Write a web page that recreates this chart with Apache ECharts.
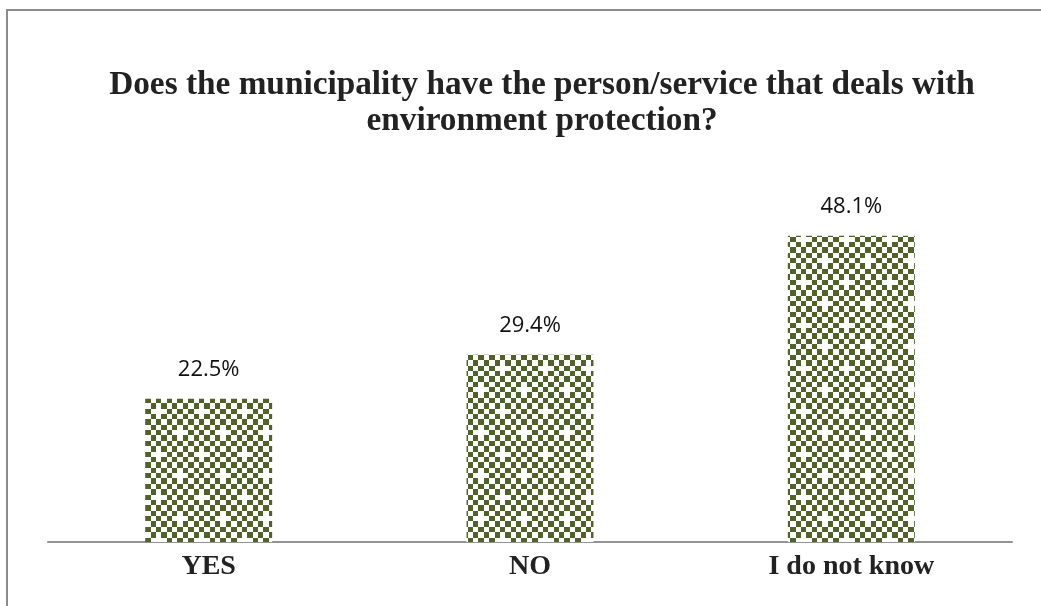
<!DOCTYPE html>
<html><head><meta charset="utf-8">
<script src="https://cdn.jsdelivr.net/npm/echarts@6/dist/echarts.min.js"></script>
<style>html,body{margin:0;padding:0;background:#fff}#c{width:1041px;height:606px}</style>
</head><body><div id="c"></div>
<script>
const titleText = 'Does the municipality have the person/service that deals with\nenvironment protection?';
const categories = ['YES', 'NO', 'I do not know'];
const values = [22.5, 29.4, 48.1];

function makePattern() {
  const n = 8, cell = 5.375, size = 43;
  const cv = document.createElement('canvas');
  cv.width = size; cv.height = size;
  const ctx = cv.getContext('2d');
  ctx.fillStyle = '#ffffff';
  ctx.fillRect(0, 0, size, size);
  const removed = new Set(['1,0', '5,4']);
  ctx.fillStyle = '#4F6228';
  for (let i = 0; i < n; i++) for (let j = 0; j < n; j++) {
    if ((i + j) % 2 === 1 && !removed.has(i + ',' + j)) {
      const x0 = Math.round(i*cell), y0 = Math.round(j*cell);
      ctx.fillRect(x0, y0, Math.round((i+1)*cell) - x0, Math.round((j+1)*cell) - y0);
    }
  }
  return cv;
}
const pat = makePattern();
const chart = echarts.init(document.getElementById('c'));
chart.setOption({
  animation: false,
  backgroundColor: '#fff',
  title: {
    text: titleText,
    left: 537, top: 62, textAlign: 'center',
    textStyle: { fontFamily: 'Liberation Serif', fontWeight: 'bold', fontSize: 33.3, color: '#222', lineHeight: 36 }
  },
  graphic: [{
    type: 'rect', shape: { x: 7, y: 10, width: 1100, height: 700 },
    style: { fill: 'none', stroke: '#8c8c8c', lineWidth: 2 }, silent: true
  }],
  grid: { left: 48, right: 29, top: 160, bottom: 64 },
  xAxis: {
    type: 'category', data: categories,
    axisTick: { show: false },
    axisLine: { lineStyle: { color: '#939393', width: 2 } },
    axisLabel: { fontFamily: 'Liberation Serif', fontWeight: 'bold', fontSize: 28, color: '#222', margin: 11 }
  },
  yAxis: { type: 'value', min: 0, max: 60, show: false, splitLine: { show: false } },
  series: [{
    type: 'bar', data: values, barWidth: '39.5%',
    itemStyle: { color: { image: pat, repeat: 'repeat' } },
    label: { show: true, position: 'top', distance: 18, formatter: p => p.value.toFixed(1) + '%',
      fontFamily: 'Open Sans', fontSize: 22, color: '#111' }
  }]
});
</script></body></html>
